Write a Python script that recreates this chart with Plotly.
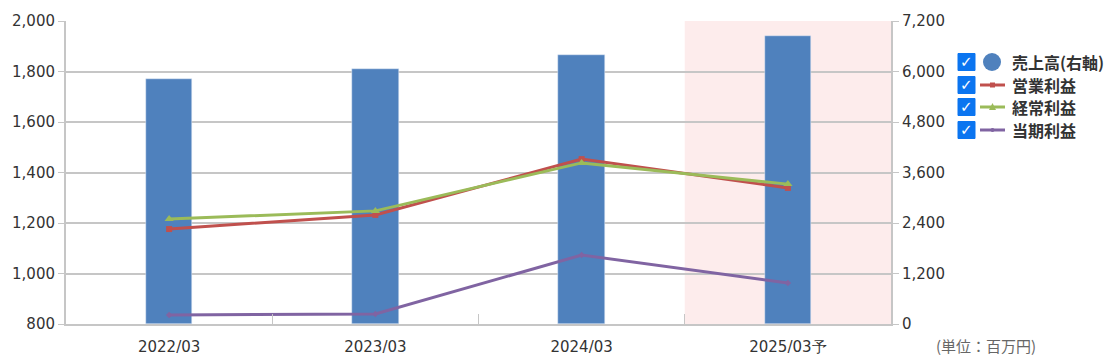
import plotly.graph_objects as go

categories = ["2022/03", "2023/03", "2024/03", "2025/03予"]
sales = [5820, 6060, 6390, 6840]            # 売上高 (right axis)
op_profit = [1176, 1232, 1453, 1339]        # 営業利益
ord_profit = [1216, 1248, 1438, 1354]       # 経常利益
net_profit = [836, 840, 1073, 962]          # 当期利益

left_ticks = [800, 1000, 1200, 1400, 1600, 1800, 2000]
right_ticks = [0, 1200, 2400, 3600, 4800, 6000, 7200]

OFF = 8  # page body margin
W, H = 1117 - OFF, 357 - OFF
L, T = 66 - OFF, 21 - OFF
PW, PH = 825, 303
R, B = W - L - PW, H - T - PH

def px(x):  # page pixel -> paper
    return (x - OFF - L) / PW

def py(y):
    return (T + PH - (y - OFF)) / PH

BLUE = "#4f81bd"
RED = "#c0504d"
GREEN = "#9bbb59"
PURPLE = "#8064a2"
GRID = "#c6c6c6"
TXT = "#333333"
FONT = "DejaVu Sans"
JFONT = "Noto Sans CJK JP"

fig = go.Figure()
fig.add_trace(go.Bar(x=categories, y=sales, yaxis="y", marker_color=BLUE,
                     width=0.225, name="売上高(右軸)", showlegend=False))
fig.add_trace(go.Scatter(x=categories, y=op_profit, yaxis="y2", mode="lines+markers",
                         line=dict(color=RED, width=3), marker=dict(symbol="square", size=6, color=RED),
                         name="営業利益", showlegend=False))
fig.add_trace(go.Scatter(x=categories, y=ord_profit, yaxis="y2", mode="lines+markers",
                         line=dict(color=GREEN, width=3), marker=dict(symbol="triangle-up", size=8, color=GREEN),
                         name="経常利益", showlegend=False))
fig.add_trace(go.Scatter(x=categories, y=net_profit, yaxis="y2", mode="lines+markers",
                         line=dict(color=PURPLE, width=3), marker=dict(symbol="diamond", size=5, color=PURPLE),
                         name="当期利益", showlegend=False))

shapes = [dict(type="rect", xref="x", yref="paper", x0=2.5, x1=3.5, y0=0, y1=1,
               fillcolor="#fdecec", line=dict(width=0), layer="below")]
annotations = []

# custom legend with checkboxes
rows = [(62, "売上高(右軸)", "circle", BLUE),
        (85, "営業利益", "square", RED),
        (107, "経常利益", "triangle", GREEN),
        (130, "当期利益", "dot", PURPLE)]
for yc, label, kind, col in rows:
    shapes.append(dict(type="rect", xref="paper", yref="paper",
                       x0=px(958), x1=px(975), y0=py(yc + 8.5), y1=py(yc - 8.5),
                       fillcolor="#0b75f0", line=dict(color="#0b75f0", width=1)))
    annotations.append(dict(xref="paper", yref="paper", x=px(966.5), y=py(yc), text="✓",
                            showarrow=False, xanchor="center", yanchor="middle",
                            font=dict(color="white", size=15, family=FONT, weight="bold")))
    if kind == "circle":
        shapes.append(dict(type="circle", xref="paper", yref="paper",
                           x0=px(983), x1=px(1001), y0=py(yc + 9), y1=py(yc - 9),
                           fillcolor=BLUE, line=dict(width=0)))
    else:
        shapes.append(dict(type="line", xref="paper", yref="paper",
                           x0=px(980), x1=px(1005), y0=py(yc), y1=py(yc),
                           line=dict(color=col, width=3)))
        if kind == "square":
            shapes.append(dict(type="rect", xref="paper", yref="paper",
                               x0=px(990), x1=px(995), y0=py(yc + 2.5), y1=py(yc - 2.5),
                               fillcolor=col, line=dict(width=0)))
        elif kind == "triangle":
            x0, x1, xm = px(989), px(996), px(992.5)
            ya, yb = py(yc + 3), py(yc - 4)
            shapes.append(dict(type="path", xref="paper", yref="paper",
                               path=f"M {x0} {ya} L {x1} {ya} L {xm} {yb} Z",
                               fillcolor=col, line=dict(width=0)))
        else:
            shapes.append(dict(type="circle", xref="paper", yref="paper",
                               x0=px(990.5), x1=px(994.5), y0=py(yc + 2), y1=py(yc - 2),
                               fillcolor=col, line=dict(width=0)))
    annotations.append(dict(xref="paper", yref="paper", x=px(1010), y=py(yc), text=label,
                            showarrow=False, xanchor="left", yanchor="middle",
                            font=dict(color=TXT, size=16, family=JFONT, weight="bold")))

annotations.append(dict(xref="paper", yref="paper", x=px(934), y=py(345), text="(単位：百万円)",
                        showarrow=False, xanchor="left", yanchor="middle",
                        font=dict(color="#666666", size=15, family=JFONT)))

fig.update_layout(
    width=W, height=H,
    margin=dict(l=L, r=R, t=T, b=B),
    paper_bgcolor="white", plot_bgcolor="rgba(0,0,0,0)",
    showlegend=False,
    bargap=0,
    xaxis=dict(type="category", showgrid=False, showline=True, linecolor=GRID, linewidth=2,
               ticks="inside", tickson="boundaries", ticklen=10, tickcolor=GRID,
               tickfont=dict(family=FONT, size=15, color=TXT), range=[-0.5, 3.5],
               ticklabelstandoff=8, automargin=False),
    yaxis=dict(side="right", range=[0, 7200], tickvals=right_ticks,
               ticktext=[f"{v:,}" for v in right_ticks],
               showgrid=True, gridcolor=GRID, gridwidth=1.5,
               showline=True, linecolor=GRID, linewidth=2, ticks="outside", ticklen=6, tickcolor=GRID,
               tickfont=dict(family=FONT, size=15, color=TXT), zeroline=False, automargin=False),
    yaxis2=dict(side="left", overlaying="y", range=[800, 2000], tickvals=left_ticks,
                ticktext=[f"{v:,}" for v in left_ticks],
                showgrid=False, showline=True, linecolor=GRID, linewidth=2,
                ticks="outside", ticklen=6, tickcolor=GRID,
                tickfont=dict(family=FONT, size=15, color=TXT), zeroline=False, automargin=False),
    shapes=shapes,
    annotations=annotations,
)

fig.write_html("out.html")
